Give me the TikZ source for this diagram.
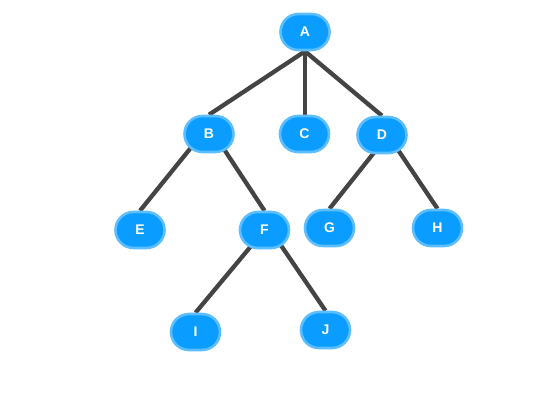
\documentclass[tikz,border=0pt]{standalone}
\usepackage{fontspec}
\setmainfont{Liberation Sans}
\usetikzlibrary{backgrounds,calc}
\definecolor{nodefill}{HTML}{0A9CFF}
\definecolor{nodeedge}{HTML}{5CBDFF}
\definecolor{edgecol}{HTML}{444444}
\begin{document}
\begin{tikzpicture}[x=1pt,y=-1pt,
  treenode/.style={draw=nodeedge, fill=nodefill, line width=2.6pt, rounded corners=18pt,
    minimum width=49pt, minimum height=36pt, inner sep=0pt, text=white,
    font=\fontsize{14}{16}\selectfont\bfseries},
  link/.style={draw=edgecol, line width=4.3pt}]
\useasboundingbox (0,0) rectangle (555,408);
\node[treenode] (A) at (305,32) {A};
\node[treenode] (B) at (209,134) {B};
\node[treenode] (C) at (304.5,134) {C};
\node[treenode] (D) at (382,135) {D};
\node[treenode] (E) at (140,230) {E};
\node[treenode] (F) at (264.5,230) {F};
\node[treenode] (G) at (329.5,228) {G};
\node[treenode] (H) at (437.5,228) {H};
\node[treenode] (I) at (195.5,332) {I};
\node[treenode] (J) at (325.5,330) {J};
\begin{scope}[on background layer]
\draw[link] (A.south) -- (B.north);
\draw[link] (A.south) -- (A.south |- C.north);
\draw[link] (A.south) -- (D.north);
\draw[link] ($(B.center)+(-7,0)$) -- (E.north);
\draw[link] ($(B.center)+(5,0)$) -- (F.north);
\draw[link] ($(D.center)+(6,0)$) -- (G.north);
\draw[link] ($(D.center)+(6,0)$) -- (H.north);
\draw[link] (F.center) -- (I.north);
\draw[link] ($(F.center)+(6,0)$) -- (J.north);
\end{scope}
\end{tikzpicture}
\end{document}
